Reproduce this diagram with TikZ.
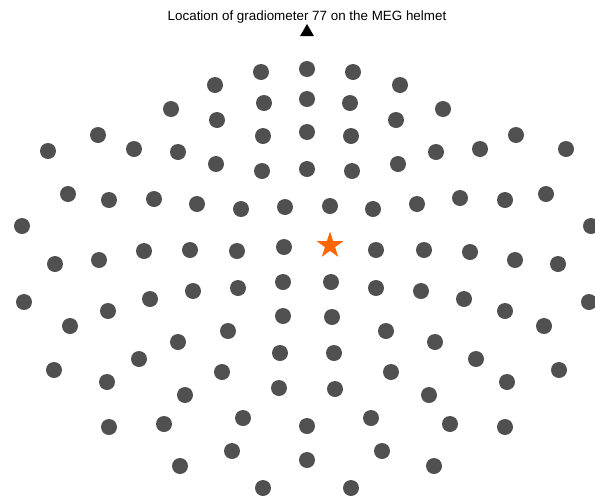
\documentclass[tikz,border=0pt]{standalone}
\usepackage{fontspec}
\setmainfont{Liberation Sans}
\usetikzlibrary{shapes.geometric}
\definecolor{sensorG}{RGB}{80,80,80}
\definecolor{gradO}{RGB}{255,102,0}
\tikzset{
  sensor/.style={circle,fill=sensorG,inner sep=0pt,minimum size=16pt},
  gradstar/.style={star,star points=5,star point ratio=2.618,minimum size=28pt,inner sep=0pt,fill=gradO},
  nosemark/.style={regular polygon,regular polygon sides=3,fill=black,inner sep=0pt,minimum size=16pt}
}
\begin{document}
\begin{tikzpicture}[x=1pt,y=-1pt]
\useasboundingbox (0,0) rectangle (595,499);
\clip (0,0) rectangle (595,499);
\node[font=\fontsize{13.4}{16}\selectfont] (title) at (307,17) {Location of gradiometer 77 on the MEG helmet};
\node[nosemark] (nose) at (307,32) {};
\foreach \x/\y [count=\i] in {307/69,261/72,353/72,215/85,400/85,
  307/99,264/103,350/103,171/109,443/109,217/120,396/120,98/135,516/135,
  307/132,263/136,351/136,48/151,134/149,178/152,436/152,480/149,566/149,
  216/164,398/164,307/169,262/171,352/171,
  68/194,109/200,154/199,197/204,241/209,285/207,330/206,373/209,417/204,460/198,505/200,546/194,
  22/226,591/226,
  55/264,99/260,144/251,190/250,237/251,284/247,376/250,424/250,470/252,515/260,558/264,
  24/302,589/302,
  70/326,108/311,150/299,193/291,238/288,283/282,331/282,376/288,421/291,464/299,505/311,544/326,
  283/316,332/317,228/331,386/331,178/342,435/342,
  54/370,139/359,476/359,559/370,280/353,334/353,222/372,391/372,107/382,507/382,
  279/388,335/389,185/395,429/395,243/418,371/418,
  109/427,164/424,450/424,505/427,307/426,232/451,382/451,307/460,
  180/466,434/466,263/488,351/488}
  \node[sensor] (s\i) at (\x,\y) {};
% gradiometer 77
\node[gradstar] (g77) at (330,245.5) {};
\end{tikzpicture}
\end{document}
